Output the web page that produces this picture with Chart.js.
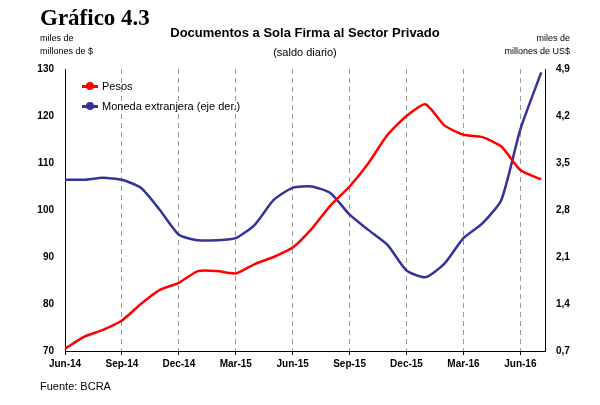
<!DOCTYPE html>
<html lang="es">
<head>
<meta charset="UTF-8" />
<script src="https://cdn.jsdelivr.net/npm/chart.js"></script>
<style>
  body { margin: 0; background: #fff; font-family: 'Liberation Sans', Arial, sans-serif; }
  #wrap { position: relative; width: 600px; height: 405px; }
  canvas { position: absolute; left: 0; top: 0; }
  .t { position: absolute; color: #000; }
  .leg { position: absolute; left: 82px; font-size: 11px; display: flex; align-items: center; }
  .mk { position: relative; width: 16px; height: 3px; margin-right: 4px; }
  .mk i { position: absolute; left: 4px; top: -2.5px; width: 8px; height: 8px; border-radius: 50%; }
</style>
</head>
<body>
<div id="wrap">
  <canvas id="c" width="600" height="405"></canvas>
  <div class="t" style="left:40px;top:5px;font:bold 23px 'Liberation Serif',serif;">Gráfico 4.3</div>
  <div class="t" style="left:0;width:610px;top:25px;text-align:center;font-weight:bold;font-size:13px;">Documentos a Sola Firma al Sector Privado</div>
  <div class="t" style="left:0;width:610px;top:46px;text-align:center;font-size:11px;">(saldo diario)</div>
  <div class="t" style="left:40px;top:32px;font-size:9px;line-height:13px;">miles de<br>millones de $</div>
  <div class="t" style="left:500px;top:32px;font-size:9px;line-height:13px;text-align:right;width:70px;">miles de<br>millones de US$</div>
  <div class="leg" style="top:80px;"><span class="mk" style="background:#f00"><i style="background:#f00"></i></span>Pesos</div>
  <div class="leg" style="top:100px;"><span class="mk" style="background:#333399"><i style="background:#333399"></i></span>Moneda extranjera (eje der.)</div>
  <div class="t" style="left:40px;top:380px;font-size:11px;">Fuente: BCRA</div>
</div>
<script>
const months = [0,1,2,3,4,5,6,7,8,9,10,11,12,13,14,15,16,17,18,19,20,21,22,23,24,25.1];
const tickLabels = ['Jun-14','Sep-14','Dec-14','Mar-15','Jun-15','Sep-15','Dec-15','Mar-16','Jun-16'];
const pesos = [70.5,73,74.5,76.5,80,83,84.5,87,87,86.5,88.5,90,92,96,101,105,110,116,120,122.5,118,116,115.5,113.5,108.5,106.5];
const moneda = [3.25,3.25,3.28,3.25,3.13,2.8,2.43,2.35,2.35,2.38,2.58,2.95,3.13,3.15,3.05,2.73,2.5,2.28,1.9,1.8,2.0,2.38,2.6,2.95,4.0,4.85];

const pts = (ys) => months.map((m, i) => ({ x: m, y: ys[i] }));

new Chart(document.getElementById('c'), {
  type: 'line',
  data: {
    datasets: [
      { data: pts(pesos), borderColor: '#ff0000', borderWidth: 2.5, pointRadius: 0, tension: 0.2, yAxisID: 'y' },
      { data: pts(moneda), borderColor: '#333399', borderWidth: 2.5, pointRadius: 0, tension: 0.2, yAxisID: 'y2' }
    ]
  },
  options: {
    responsive: false, animation: false,
    layout: { padding: { top: 69, bottom: 28, left: 0, right: 0 } },
    plugins: { legend: { display: false }, tooltip: { enabled: false } },
    scales: {
      x: {
        type: 'linear', min: 0, max: 25.3,
        afterBuildTicks: s => { s.ticks = tickLabels.map((_, i) => ({ value: i * 3 })); },
        afterFit: s => { s.height = 26; },
        ticks: { callback: v => tickLabels[v / 3], font: { size: 10, weight: 'bold' }, color: '#000', maxRotation: 0 },
        grid: { color: '#999', tickLength: 4, tickColor: '#000' },
        border: { color: '#000', dash: [5, 4] }
      },
      y: {
        position: 'left', min: 70, max: 130,
        afterFit: s => { s.width = 65; },
        ticks: { stepSize: 10, font: { size: 10, weight: 'bold' }, color: '#000' },
        grid: { display: false },
        border: { color: '#000' }
      },
      y2: {
        position: 'right', min: 0.7, max: 4.9,
        afterFit: s => { s.width = 55; },
        afterBuildTicks: s => { s.ticks = [0.7,1.4,2.1,2.8,3.5,4.2,4.9].map(v => ({ value: v })); },
        ticks: { callback: v => v.toFixed(1).replace('.', ','), font: { size: 10, weight: 'bold' }, color: '#000' },
        grid: { display: false },
        border: { color: '#000' }
      }
    }
  }
});
</script>
</body>
</html>
